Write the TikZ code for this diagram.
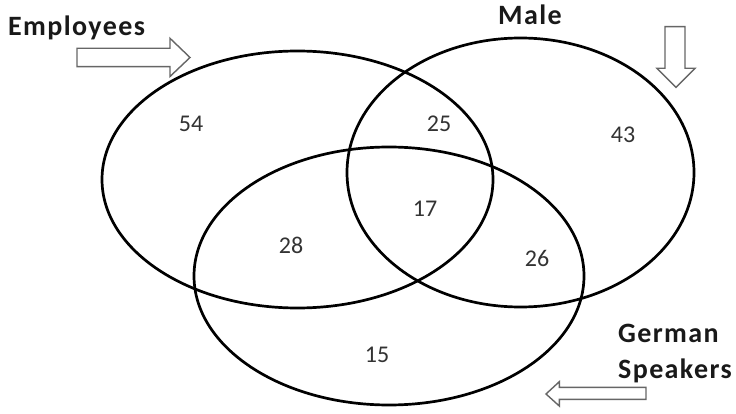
\documentclass[tikz,border=0pt]{standalone}
\usepackage{fontspec}
\setmainfont{Carlito}
\newfontfamily\titlefont[LetterSpace=5]{Carlito}
\usetikzlibrary{shapes.geometric}
\begin{document}
\begin{tikzpicture}[x=1pt,y=-1pt,
  setring/.style={draw=black, line width=2.7pt, ellipse, inner sep=0pt, outer sep=0pt},
  count/.style={font=\fontsize{24}{28}\selectfont, text=black!80, inner sep=0pt},
  title/.style={font=\titlefont\fontsize{28}{34}\selectfont\bfseries, text=black!90, inner sep=0pt, anchor=base west},
  blockarrow/.style={draw=black!60, line width=1.4pt, fill=white, line join=miter}]
\useasboundingbox (0,0) rectangle (736,414);
\fill[white] (0,0) rectangle (736,414);
% sets
\node[setring, minimum width=391pt, minimum height=257pt] (emp) at (297.5,179.5) {};
\node[setring, minimum width=347pt, minimum height=269pt] (male) at (520.5,172.5) {};
\node[setring, minimum width=390pt, minimum height=258pt] (ger) at (389,276) {};
% counts
\node[count] (n54) at (191,124) {54};
\node[count] (n25) at (439,124) {25};
\node[count] (n43) at (623,135) {43};
\node[count] (n17) at (425,209) {17};
\node[count] (n28) at (291,245) {28};
\node[count] (n26) at (537,258) {26};
\node[count] (n15) at (377,355) {15};
% titles
\node[title] (temp) at (8,36) {Employees};
\node[title] (tmale) at (498,25) {Male};
\node[title] (tger) at (618,342) {German};
\node[title] (tspk) at (618,378) {Speakers};
% block arrows
\draw[blockarrow] (77,48.3) -- (170,48.3) -- (170,38.3) -- (190,57.5) -- (170,76.5) -- (170,66.7) -- (77,66.7) -- cycle;
\draw[blockarrow] (665,26.7) -- (685,26.7) -- (685,68.3) -- (695,68.3) -- (676,87.3) -- (657,68.3) -- (665,68.3) -- cycle;
\draw[blockarrow] (646,387.3) -- (559.3,387.3) -- (559.3,381.7) -- (546,394) -- (559.3,406) -- (559.3,399.3) -- (646,399.3) -- cycle;
\end{tikzpicture}
\end{document}
